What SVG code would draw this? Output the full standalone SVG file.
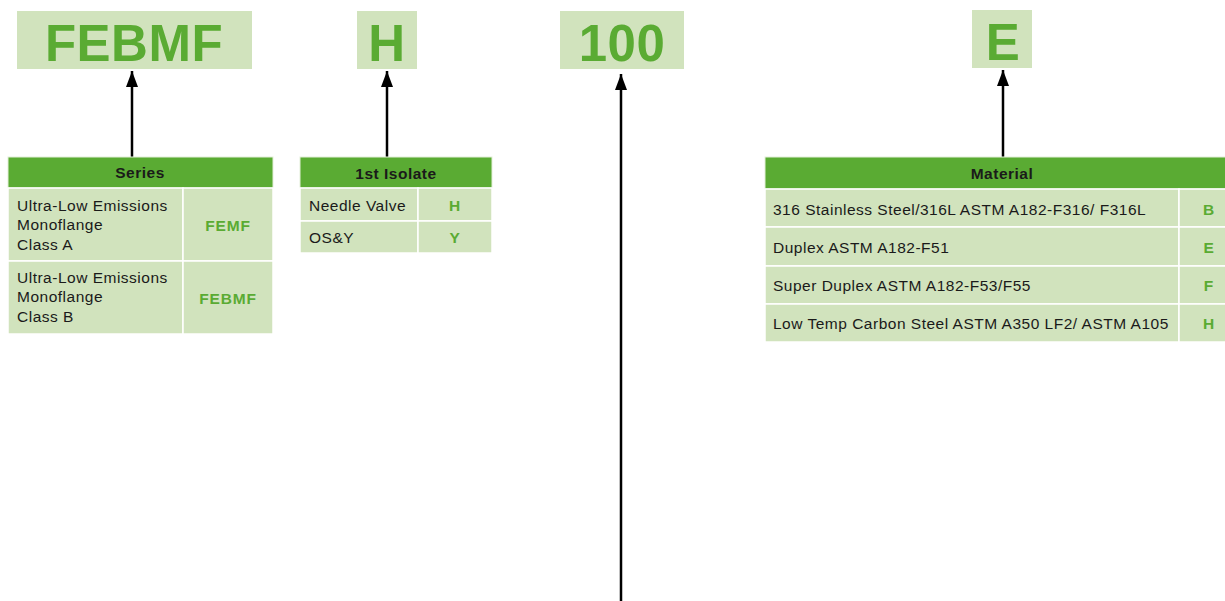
<svg xmlns="http://www.w3.org/2000/svg" width="1225" height="601" viewBox="0 0 1225 601">
<style>
.code{fill:#d1e3bd}
.big{font-family:"Liberation Sans",Arial,sans-serif;font-weight:bold;font-size:51px;fill:#5aab33;text-anchor:middle;letter-spacing:0.5px}
.hdr{fill:#5aab33;stroke:#e4efd9;stroke-width:1}
.cell{fill:#d1e3bd;stroke:#ffffff;stroke-width:1.5}
.ht{font-family:"Liberation Sans",Arial,sans-serif;font-weight:bold;font-size:15.5px;fill:#1a1a1a;text-anchor:middle;letter-spacing:0.5px}
.t{font-family:"Liberation Sans",Arial,sans-serif;font-size:15.5px;fill:#1a1a1a;letter-spacing:0.5px}
.c{font-family:"Liberation Sans",Arial,sans-serif;font-weight:bold;font-size:15.5px;fill:#5aab33;text-anchor:middle;letter-spacing:0.8px}
</style>
<defs>
<marker id="up" markerWidth="14" markerHeight="16" refX="7" refY="0" orient="0" markerUnits="userSpaceOnUse" viewBox="0 0 14 16">
<path d="M7,0 L13,16 L1,16 Z" fill="#000"/>
</marker>
</defs>
<rect width="1225" height="601" fill="#fff"/>

<g id="code-series"><rect class="code" x="17" y="11" width="235" height="58"/><text class="big" x="134" y="61">FEBMF</text></g>
<g id="code-isolate"><rect class="code" x="357" y="11" width="60" height="58"/><text class="big" x="387" y="61">H</text></g>
<g id="code-size"><rect class="code" x="560" y="11" width="124" height="58"/><text class="big" x="622" y="61">100</text></g>
<g id="code-material"><rect class="code" x="972" y="10" width="60" height="58"/><text class="big" x="1003" y="60">E</text></g>

<g id="connectors">
<line x1="132" y1="157" x2="132" y2="71" stroke="#000" stroke-width="2.5" marker-end="url(#up)"/>
<line x1="387" y1="157" x2="387" y2="71" stroke="#000" stroke-width="2.5" marker-end="url(#up)"/>
<line x1="621" y1="601" x2="621" y2="74" stroke="#000" stroke-width="2.5" marker-end="url(#up)"/>
<line x1="1003" y1="157" x2="1003" y2="70" stroke="#000" stroke-width="2.5" marker-end="url(#up)"/>
</g>

<g id="table-series">
<rect class="hdr" x="8" y="157" width="265" height="31"/>
<text class="ht" x="140" y="178">Series</text>
<rect class="cell" x="8" y="188" width="175" height="73"/>
<rect class="cell" x="183" y="188" width="90" height="73"/>
<rect class="cell" x="8" y="261" width="175" height="73"/>
<rect class="cell" x="183" y="261" width="90" height="73"/>
<text class="t" x="17" y="211">Ultra-Low Emissions</text>
<text class="t" x="17" y="230">Monoflange</text>
<text class="t" x="17" y="250">Class A</text>
<text class="c" x="228" y="231">FEMF</text>
<text class="t" x="17" y="283">Ultra-Low Emissions</text>
<text class="t" x="17" y="302">Monoflange</text>
<text class="t" x="17" y="322">Class B</text>
<text class="c" x="228" y="304">FEBMF</text>
</g>

<g id="table-isolate">
<rect class="hdr" x="300" y="157" width="192" height="31"/>
<text class="ht" x="396" y="179">1st Isolate</text>
<rect class="cell" x="300" y="188" width="118" height="33"/>
<rect class="cell" x="418" y="188" width="74" height="33"/>
<rect class="cell" x="300" y="221" width="118" height="32"/>
<rect class="cell" x="418" y="221" width="74" height="32"/>
<text class="t" x="309" y="211">Needle Valve</text>
<text class="c" x="455" y="211">H</text>
<text class="t" x="309" y="243">OS&amp;Y</text>
<text class="c" x="455" y="243">Y</text>
</g>

<g id="table-material">
<rect class="hdr" x="765" y="157" width="465" height="32"/>
<text class="ht" x="1002" y="179">Material</text>
<rect class="cell" x="765" y="189" width="414" height="38"/>
<rect class="cell" x="1179" y="189" width="60" height="38"/>
<rect class="cell" x="765" y="227" width="414" height="39"/>
<rect class="cell" x="1179" y="227" width="60" height="39"/>
<rect class="cell" x="765" y="266" width="414" height="38"/>
<rect class="cell" x="1179" y="266" width="60" height="38"/>
<rect class="cell" x="765" y="304" width="414" height="38"/>
<rect class="cell" x="1179" y="304" width="60" height="38"/>
<text class="t" x="773" y="215">316 Stainless Steel/316L ASTM A182-F316/ F316L</text>
<text class="c" x="1209" y="215">B</text>
<text class="t" x="773" y="253">Duplex ASTM A182-F51</text>
<text class="c" x="1209" y="253">E</text>
<text class="t" x="773" y="291">Super Duplex ASTM A182-F53/F55</text>
<text class="c" x="1209" y="291">F</text>
<text class="t" x="773" y="329">Low Temp Carbon Steel ASTM A350 LF2/ ASTM A105</text>
<text class="c" x="1209" y="329">H</text>
</g>
</svg>
